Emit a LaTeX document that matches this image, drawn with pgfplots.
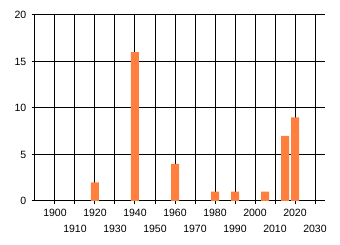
\documentclass[border=0pt]{standalone}
\usepackage{pgfplots}
\pgfplotsset{compat=1.18}
\usepackage{fontspec}
\setmainfont{Liberation Sans}
\definecolor{barorange}{RGB}{255,127,63}
\begin{document}
\begin{tikzpicture}
\useasboundingbox (0pt,0pt) rectangle (255pt,183.75pt);
\begin{axis}[
  at={(26.25pt,33pt)}, anchor=south west,
  scale only axis, width=217.5pt, height=139.5pt,
  xmin=1890, xmax=2035, ymin=0, ymax=20,
  axis lines*=left,
  axis line style={black, line width=0.75pt},
  tick align=outside,
  major tick length=2.5pt,
  tick style={black, line width=0.75pt},
  xtick={1900,1920,...,2020},
  extra x ticks={1910,1930,...,2030},
  extra x tick style={grid=major, xticklabel style={yshift=-12pt}},
  ytick={0,5,...,20},
  grid=major,
  major grid style={black, line width=0.75pt},
  /pgf/number format/1000 sep={},
  /pgf/number format/assume math mode=true,
  tick label style={font=\fontsize{7.9}{9}\selectfont, text=black},
  xticklabel style={yshift=0pt},
  yticklabel style={xshift=-0.5pt},
  ybar, bar width=6pt,
]
\addplot[fill=barorange, draw=none] coordinates {
  (1920,2) (1940,16) (1960,4) (1980,1) (1990,1) (2005,1) (2015,7) (2020,9)
};
\end{axis}
\end{tikzpicture}
\end{document}
